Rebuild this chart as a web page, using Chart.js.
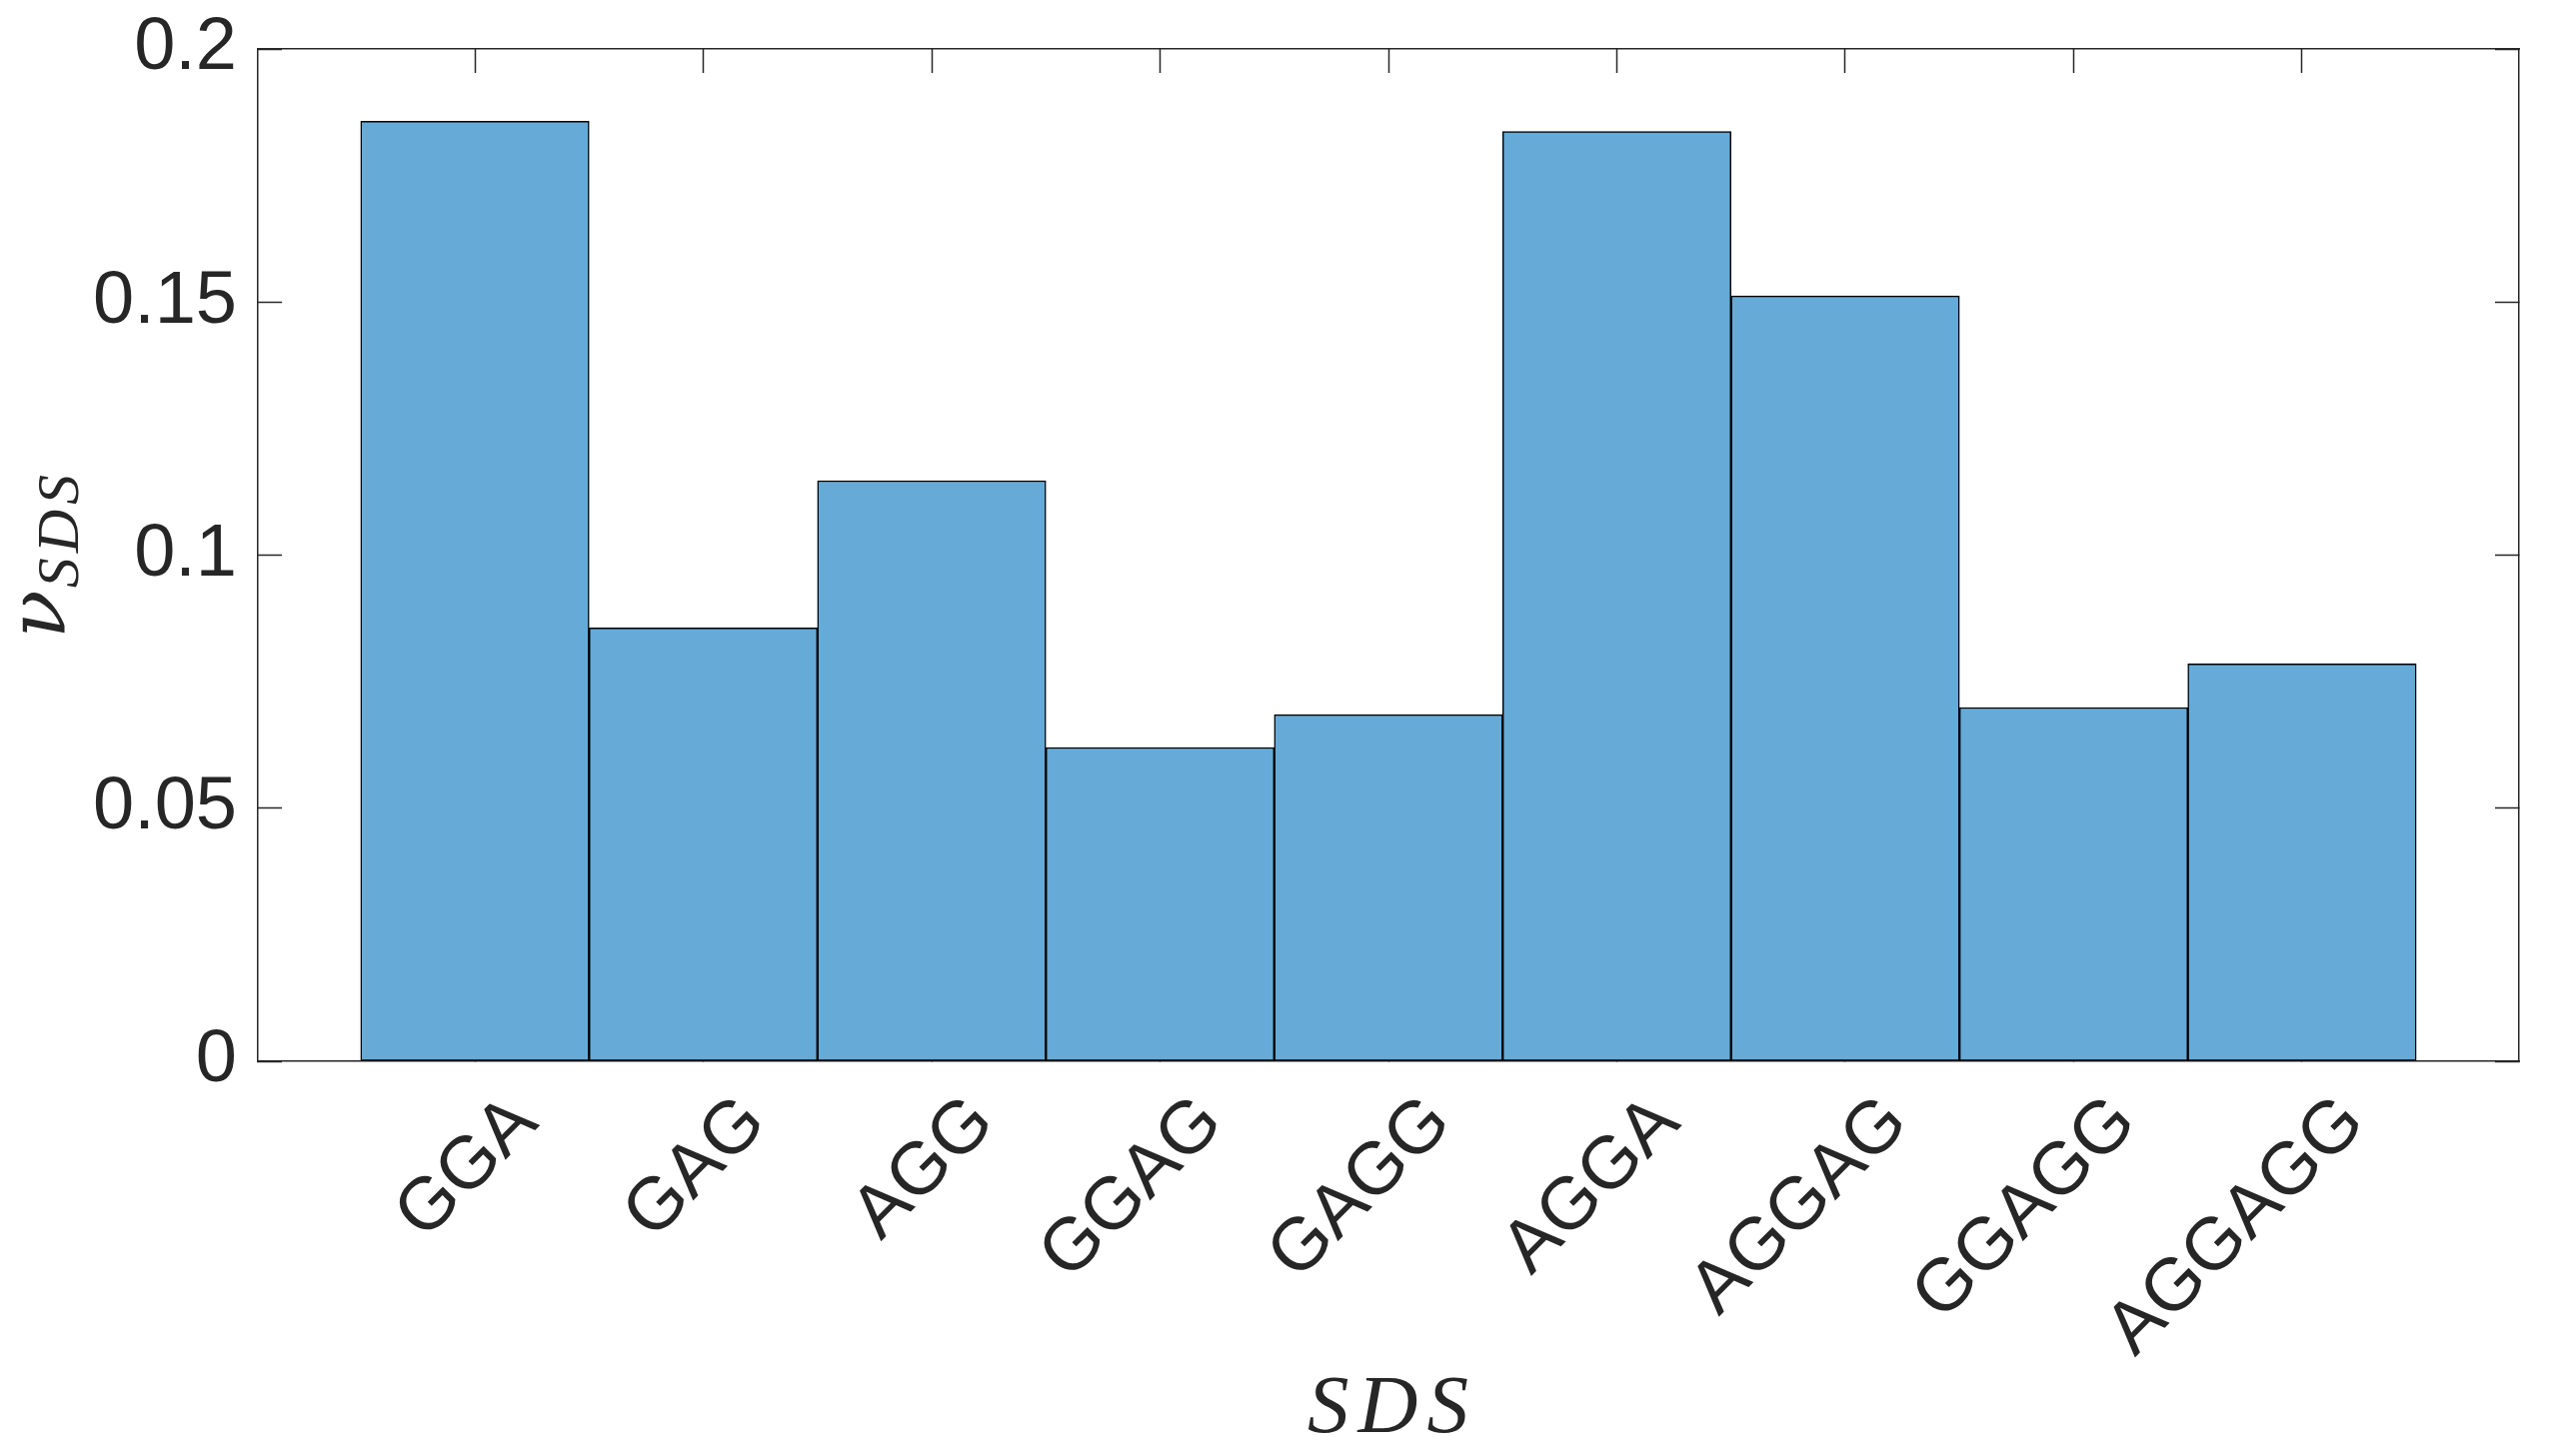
<!DOCTYPE html>
<html>
<head>
<meta charset="utf-8">
<script src="https://cdn.jsdelivr.net/npm/chart.js@4.4.1/dist/chart.umd.min.js"></script>
<style>
  html, body { margin: 0; padding: 0; background: #fff; }
  #wrap { width: 2555px; height: 1457px; }
</style>
</head>
<body>
<div id="wrap"><canvas id="chart" width="2555" height="1457"></canvas></div>
<script>
// sequences on the x axis and their nu_SDS values
const categories = ['GGA', 'GAG', 'AGG', 'GGAG', 'GAGG', 'AGGA', 'AGGAG', 'GGAGG', 'AGGAGG'];
const nuValues = [0.1857, 0.0856, 0.1147, 0.0620, 0.0685, 0.1837, 0.1512, 0.0699, 0.0785];
const yTickValues = [0, 0.05, 0.1, 0.15, 0.2];

const xTitle = 'SDS';
const yTitleMain = '\u03BD';
const yTitleSub = 'SDS';

const axisColor = '#262626';
const barFill = '#66AAD7';
const tickFont = { family: '"Liberation Sans", Arial, Helvetica, sans-serif', size: 74 };

// category positions 1..n on a linear axis, like MATLAB's bar()
const xPositions = categories.map((_, i) => i + 1);
const points = xPositions.map((x, i) => ({ x, y: nuValues[i] }));

function setXTicks(scale) {
  scale.ticks = xPositions.map(v => ({ value: v }));
}
function setYTicks(scale) {
  scale.ticks = yTickValues.map(v => ({ value: v }));
}
function fixSize(size, horizontal) {
  return function (scale) {
    if (horizontal) scale.height = size; else scale.width = size;
    scale.paddingLeft = 0;
    scale.paddingRight = 0;
    scale.paddingTop = 0;
    scale.paddingBottom = 0;
  };
}

const gridInside = {
  offset: false,
  drawOnChartArea: false,
  drawTicks: true,
  tickLength: -24,
  tickColor: axisColor,
  tickWidth: 1.5,
  color: axisColor,
};
const frame = { display: true, color: axisColor, width: 1.5 };

// axis titles: LaTeX-style italic, nu with subscript SDS
const axisTitles = {
  id: 'axisTitles',
  afterDraw(chart) {
    const { ctx, chartArea } = chart;
    ctx.save();
    ctx.fillStyle = axisColor;

    ctx.font = 'italic 83px "Liberation Serif", "Times New Roman", serif';
    ctx.letterSpacing = '9px';
    ctx.textAlign = 'center';
    ctx.textBaseline = 'alphabetic';
    ctx.fillText(xTitle, (chartArea.left + chartArea.right) / 2 + 4, chartArea.bottom + 371);

    const cy = (chartArea.top + chartArea.bottom) / 2;
    ctx.translate(chartArea.left - 193, cy);
    ctx.rotate(-Math.PI / 2);
    ctx.textAlign = 'left';
    ctx.letterSpacing = '0px';
    ctx.font = 'italic 80px "DejaVu Serif", "Liberation Serif", serif';
    const w1 = ctx.measureText(yTitleMain).width;
    ctx.font = 'italic 60px "Liberation Serif", "Times New Roman", serif';
    ctx.letterSpacing = '5px';
    const w2 = ctx.measureText(yTitleSub).width;
    const start = -(w1 + w2) / 2;
    ctx.letterSpacing = '0px';
    ctx.font = 'italic 80px "DejaVu Serif", "Liberation Serif", serif';
    ctx.fillText(yTitleMain, start, 0);
    ctx.letterSpacing = '5px';
    ctx.font = 'italic 60px "Liberation Serif", "Times New Roman", serif';
    ctx.fillText(yTitleSub, start + w1 + 2, 13);
    ctx.restore();
  }
};

const ctx = document.getElementById('chart');
new Chart(ctx, {
  type: 'bar',
  data: {
    datasets: [{
      data: points,
      backgroundColor: barFill,
      borderColor: '#000000',
      borderWidth: 1.5,
      borderSkipped: false,
      barPercentage: 1,
      categoryPercentage: 1,
    }],
  },
  options: {
    responsive: false,
    animation: false,
    devicePixelRatio: 1,
    layout: { padding: 0 },
    plugins: {
      legend: { display: false },
      title: { display: false },
      tooltip: { enabled: false },
    },
    scales: {
      x: {
        type: 'linear',
        position: 'bottom',
        offset: false,
        min: 0.05,
        max: 9.95,
        z: 1,
        afterBuildTicks: setXTicks,
        afterFit: fixSize(395, true),
        grid: gridInside,
        border: frame,
        ticks: {
          autoSkip: false,
          minRotation: 45,
          maxRotation: 45,
          padding: 42,
          labelOffset: 51,
          color: axisColor,
          font: tickFont,
          callback: (v) => categories[Math.round(v) - 1] || '',
        },
      },
      x2: {
        type: 'linear',
        position: 'top',
        offset: false,
        min: 0.05,
        max: 9.95,
        z: 1,
        afterBuildTicks: setXTicks,
        afterFit: fixSize(49, true),
        grid: gridInside,
        border: frame,
        ticks: { display: false },
      },
      y: {
        type: 'linear',
        position: 'left',
        min: 0,
        max: 0.2,
        z: 1,
        afterBuildTicks: setYTicks,
        afterFit: fixSize(258, false),
        grid: gridInside,
        border: frame,
        ticks: {
          padding: 45,
          color: axisColor,
          font: tickFont,
          callback: (v) => String(+Number(v).toFixed(2)),
        },
      },
      y2: {
        type: 'linear',
        position: 'right',
        min: 0,
        max: 0.2,
        z: 1,
        afterBuildTicks: setYTicks,
        afterFit: fixSize(35, false),
        grid: gridInside,
        border: frame,
        ticks: { display: false },
      },
    },
  },
  plugins: [axisTitles],
});
</script>
</body>
</html>
